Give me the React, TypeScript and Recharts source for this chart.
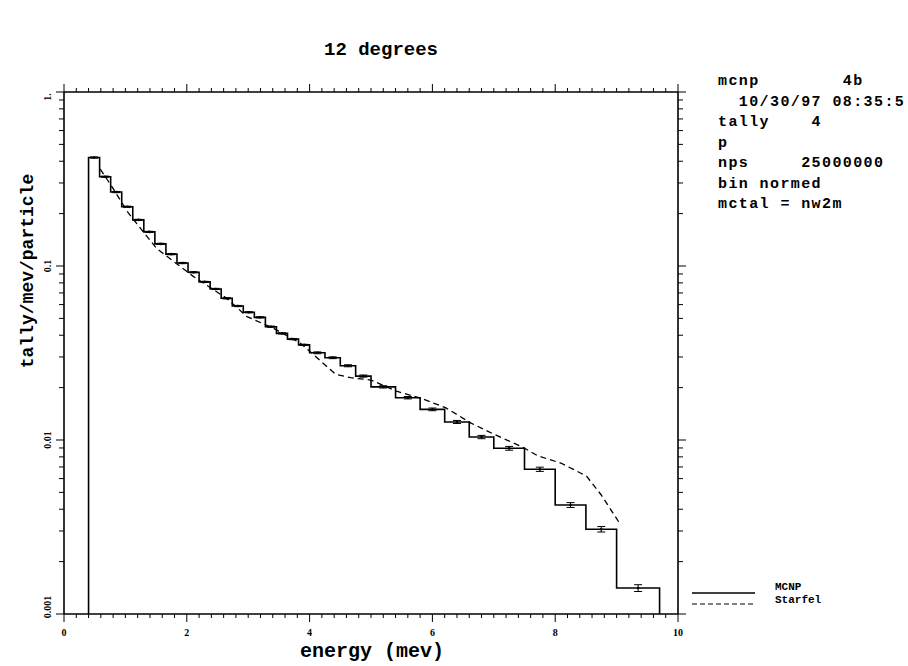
import {
  ComposedChart,
  Line,
  Scatter,
  ErrorBar,
  XAxis,
  YAxis,
  Legend,
  Label,
} from 'recharts';

// bin edges of the MCNP tally (MeV)
const binEdges = [
  0.4, 0.58, 0.76, 0.94, 1.12, 1.3, 1.48, 1.66, 1.84, 2.02, 2.2, 2.38, 2.56,
  2.74, 2.92, 3.1, 3.28, 3.46, 3.64, 3.82, 4.0, 4.25, 4.5, 4.75, 5.0, 5.4,
  5.8, 6.2, 6.6, 7.0, 7.5, 8.0, 8.5, 9.0, 9.7,
];

// tally/mev/particle per bin
const mcnpTally = [
  0.42, 0.326, 0.266, 0.219, 0.184, 0.157, 0.134, 0.117, 0.104, 0.092, 0.081,
  0.0738, 0.0652, 0.0589, 0.0542, 0.0507, 0.0448, 0.041, 0.038, 0.0352,
  0.0317, 0.0297, 0.0267, 0.0233, 0.0202, 0.0175, 0.015, 0.0127, 0.0104,
  0.00896, 0.00679, 0.00423, 0.00307, 0.00141,
];

// relative error per bin
const mcnpRelErr = [
  0.008, 0.008, 0.008, 0.008, 0.008, 0.008, 0.008, 0.008, 0.008, 0.008,
  0.008, 0.008, 0.008, 0.008, 0.008, 0.008, 0.008, 0.008, 0.008, 0.008,
  0.012, 0.012, 0.013, 0.014, 0.015, 0.016, 0.018, 0.02, 0.022, 0.025,
  0.028, 0.032, 0.036, 0.045,
];

const starfelEnergy = [
  0.59, 0.78, 1.05, 1.51, 2.11, 2.65, 2.98, 3.41, 3.85, 4.04, 4.42, 4.67, 5.0,
  5.43, 5.81, 6.22, 6.63, 7.0, 7.47, 7.72, 8.1, 8.51, 8.75, 9.05,
];
const starfelValues = [
  0.36, 0.286, 0.201, 0.126, 0.0869, 0.0652, 0.0512, 0.0439, 0.036, 0.0315,
  0.0239, 0.0228, 0.0221, 0.019, 0.0174, 0.0153, 0.0125, 0.0108, 0.0091,
  0.0081, 0.00735, 0.0062, 0.00483, 0.00332,
];

const xMajorTicks = [0, 2, 4, 6, 8, 10];
const xTickLabels = ['0', '2', '4', '6', '8', '10'];
const yMajorTicks = [0.001, 0.01, 0.1, 1];
const yTickLabels = ['0.001', '0.01', '0.1', '1.'];

const infoLines = [
  'mcnp        4b',
  '  10/30/97 08:35:5',
  'tally    4',
  'p',
  'nps     25000000',
  'bin normed',
  'mctal = nw2m',
];

const Y_MIN = 0.001;
const MONO = '"Liberation Mono", "DejaVu Sans Mono", monospace';
const SERIF = '"Liberation Serif", "DejaVu Serif", serif';

const xTicks = Array.from({ length: 51 }, (_, i) => Number((i * 0.2).toFixed(1)));
const yTicks: number[] = [];
[0.001, 0.01, 0.1].forEach((d) => {
  for (let m = 1; m < 10; m++) yTicks.push(Number((m * d).toPrecision(2)));
});
yTicks.push(1);

const histData = [
  { x: binEdges[0], y: Y_MIN },
  ...mcnpTally.map((v, i) => ({ x: binEdges[i], y: v })),
  { x: binEdges[binEdges.length - 1], y: mcnpTally[mcnpTally.length - 1] },
  { x: binEdges[binEdges.length - 1], y: Y_MIN },
];

const errData = mcnpTally.map((v, i) => ({
  x: (binEdges[i] + binEdges[i + 1]) / 2,
  y: v,
  err: v * mcnpRelErr[i],
}));

const starfelData = starfelEnergy.map((x, i) => ({ x, y: starfelValues[i] }));

const AXIS = { stroke: '#000', strokeWidth: 1.6 };

function BottomTick({ x, y, payload }: any) {
  const idx = xMajorTicks.indexOf(payload.value);
  const len = idx >= 0 ? 8 : 4;
  return (
    <g>
      <line x1={x} y1={y} x2={x} y2={y + len} stroke="#000" strokeWidth={1} />
      {idx >= 0 && (
        <text
          x={x}
          y={y + 22}
          textAnchor="middle"
          fontFamily={SERIF}
          fontWeight="bold"
          fontSize={10}
          fill="#000"
        >
          {xTickLabels[idx]}
        </text>
      )}
    </g>
  );
}

function TopTick({ x, y, payload }: any) {
  const len = xMajorTicks.includes(payload.value) ? 8 : 4;
  return <line x1={x} y1={y} x2={x} y2={y - len} stroke="#000" strokeWidth={1} />;
}

function LeftTick({ x, y, payload }: any) {
  const idx = yMajorTicks.indexOf(payload.value);
  const len = idx >= 0 ? 8 : 5;
  const ly = y + (payload.value === 1 ? 5 : payload.value === Y_MIN ? -7 : 0);
  return (
    <g>
      <line x1={x} y1={y} x2={x - len} y2={y} stroke="#000" strokeWidth={1} />
      {idx >= 0 && (
        <text
          x={x - 17}
          y={ly}
          transform={`rotate(-90 ${x - 17} ${ly})`}
          textAnchor="middle"
          dominantBaseline="central"
          fontFamily={SERIF}
          fontWeight="bold"
          fontSize={10}
          fill="#000"
        >
          {yTickLabels[idx]}
        </text>
      )}
    </g>
  );
}

function RightTick({ x, y, payload }: any) {
  const len = yMajorTicks.includes(payload.value) ? 8 : 5;
  return <line x1={x} y1={y} x2={x + len} y2={y} stroke="#000" strokeWidth={1} />;
}

function ErrDot({ cx, cy }: any) {
  return <circle cx={cx} cy={cy} r={1.3} fill="#000" />;
}

function LegendBox() {
  return (
    <svg width={218} height={34}>
      <line x1={2} y1={13} x2={65} y2={13} stroke="#000" strokeWidth={1.4} />
      <text x={85} y={10} fontFamily={MONO} fontWeight="bold" fontSize={11} fill="#000">
        MCNP
      </text>
      <line
        x1={2}
        y1={24}
        x2={65}
        y2={24}
        stroke="#000"
        strokeWidth={1.2}
        strokeDasharray="5 3"
      />
      <text x={85} y={23} fontFamily={MONO} fontWeight="bold" fontSize={11} fill="#000">
        Starfel
      </text>
    </svg>
  );
}

export default function App() {
  return (
    <div
      style={{
        position: 'absolute',
        left: 0,
        top: 0,
        width: 908,
        height: 666,
        background: '#fff',
        overflow: 'hidden',
      }}
    >
      <ComposedChart
        width={908}
        height={666}
        margin={{ top: 91, right: 229, bottom: 51, left: 63 }}
      >
        <XAxis
          xAxisId="bottom"
          type="number"
          dataKey="x"
          domain={[0, 10]}
          allowDataOverflow
          ticks={xTicks}
          interval={0}
          height={1}
          tickSize={0}
          tickMargin={0}
          tick={(p: any) => <BottomTick {...p} />}
          axisLine={AXIS}
        >
          <Label
            content={({ viewBox }: any) => (
              <text
                x={viewBox.x + viewBox.width / 2 + 1}
                y={viewBox.y + 43}
                textAnchor="middle"
                fontFamily={MONO}
                fontWeight="bold"
                fontSize={20}
                fill="#000"
              >
                energy (mev)
              </text>
            )}
          />
        </XAxis>
        <XAxis
          xAxisId="top"
          orientation="top"
          type="number"
          dataKey="x"
          domain={[0, 10]}
          allowDataOverflow
          ticks={xTicks}
          interval={0}
          height={1}
          tickSize={0}
          tickMargin={0}
          tick={(p: any) => <TopTick {...p} />}
          axisLine={AXIS}
        />
        <YAxis
          yAxisId="left"
          type="number"
          scale="log"
          domain={[Y_MIN, 1]}
          allowDataOverflow
          ticks={yTicks}
          interval={0}
          width={1}
          tickSize={0}
          tickMargin={0}
          tick={(p: any) => <LeftTick {...p} />}
          axisLine={AXIS}
        >
          <Label
            content={({ viewBox }: any) => {
              const lx = viewBox.x + viewBox.width - 36;
              const ly = viewBox.y + 179;
              return (
                <text
                  x={lx}
                  y={ly}
                  transform={`rotate(-90 ${lx} ${ly})`}
                  textAnchor="middle"
                  dominantBaseline="central"
                  fontFamily={MONO}
                  fontWeight="bold"
                  fontSize={18}
                  fill="#000"
                >
                  tally/mev/particle
                </text>
              );
            }}
          />
        </YAxis>
        <YAxis
          yAxisId="right"
          orientation="right"
          type="number"
          scale="log"
          domain={[Y_MIN, 1]}
          allowDataOverflow
          ticks={yTicks}
          interval={0}
          width={1}
          tickSize={0}
          tickMargin={0}
          tick={(p: any) => <RightTick {...p} />}
          axisLine={AXIS}
        />
        <Line
          xAxisId="bottom"
          yAxisId="left"
          data={histData}
          dataKey="y"
          name="MCNP"
          type="stepAfter"
          stroke="#000"
          strokeWidth={1.6}
          dot={false}
          isAnimationActive={false}
        />
        <Line
          xAxisId="bottom"
          yAxisId="left"
          data={starfelData}
          dataKey="y"
          name="Starfel"
          type="linear"
          stroke="#000"
          strokeWidth={1.3}
          strokeDasharray="6 4"
          dot={false}
          isAnimationActive={false}
        />
        <Scatter
          xAxisId="bottom"
          yAxisId="left"
          data={errData}
          dataKey="y"
          shape={(p: any) => <ErrDot {...p} />}
          legendType="none"
          isAnimationActive={false}
        >
          <ErrorBar
            dataKey="err"
            direction="y"
            width={4}
            stroke="#000"
            strokeWidth={1}
            isAnimationActive={false}
          />
        </Scatter>
        <Legend
          layout="vertical"
          align="center"
          verticalAlign="middle"
          wrapperStyle={{ left: 690, top: 580, width: 218 }}
          content={() => <LegendBox />}
        />
      </ComposedChart>
      <svg
        width={908}
        height={666}
        style={{ position: 'absolute', left: 0, top: 0, pointerEvents: 'none' }}
      >
        <text
          x={381}
          y={55}
          textAnchor="middle"
          fontFamily={MONO}
          fontWeight="bold"
          fontSize={19}
          fill="#000"
        >
          12 degrees
        </text>
        {infoLines.map((line, i) => (
          <text
            key={i}
            x={718}
            y={85 + i * 20.5}
            fontFamily={MONO}
            fontWeight="bold"
            fontSize={15}
            letterSpacing={1.4}
            fill="#000"
            style={{ whiteSpace: 'pre' }}
          >
            {line}
          </text>
        ))}
      </svg>
    </div>
  );
}
